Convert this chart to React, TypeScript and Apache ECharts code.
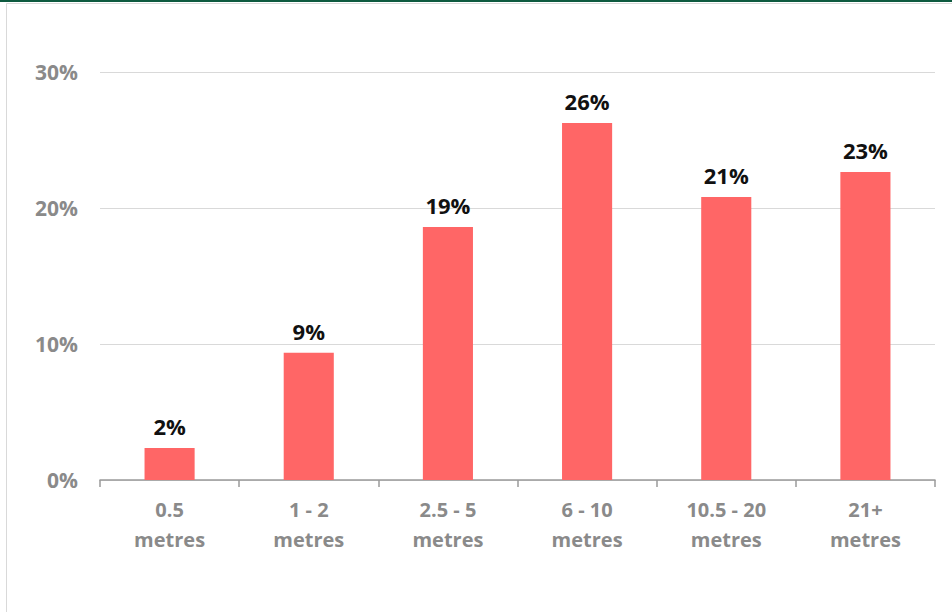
import React, { useEffect, useRef } from "react";
import * as echarts from "echarts";

// Share of responses by distance band (percent)
const categories: string[] = ["0.5\nmetres", "1 - 2\nmetres", "2.5 - 5\nmetres", "6 - 10\nmetres", "10.5 - 20\nmetres", "21+\nmetres"];
const shares: number[] = [2.35, 9.35, 18.6, 26.25, 20.8, 22.65];
const yTicks: number[] = [0, 10, 20, 30];

const FONT = "'Open Sans', 'Liberation Sans', sans-serif";

export default function App() {
  const ref = useRef<HTMLDivElement>(null);

  useEffect(() => {
    if (!ref.current) return;
    const chart = echarts.init(ref.current, null, { renderer: "svg" });
    chart.setOption({
      animation: false,
      backgroundColor: "#ffffff",
      grid: { left: 100, right: 17, top: 72, bottom: 132, containLabel: false },
      graphic: [
        { type: "rect", shape: { x: 0, y: 0, width: 952, height: 2 }, style: { fill: "#0d5a3f" } },
        { type: "line", shape: { x1: 6.5, y1: 3.5, x2: 952, y2: 3.5 }, style: { stroke: "#d9d9d9", lineWidth: 1 } },
        { type: "line", shape: { x1: 6.5, y1: 3.5, x2: 6.5, y2: 612 }, style: { stroke: "#d9d9d9", lineWidth: 1 } },
      ],
      xAxis: {
        type: "category",
        data: categories,
        axisLine: { show: true, lineStyle: { color: "#9a9a9a", width: 1.5 } },
        axisTick: { show: true, alignWithLabel: false, length: 7, lineStyle: { color: "#9a9a9a", width: 1.5 } },
        axisLabel: {
          color: "#8a8a8a",
          fontFamily: FONT,
          fontWeight: "bold",
          fontSize: 20,
          lineHeight: 30,
          margin: 14,
          interval: 0,
        },
      },
      yAxis: {
        type: "value",
        min: yTicks[0],
        max: yTicks[yTicks.length - 1],
        interval: 10,
        axisLine: { show: false },
        axisTick: { show: false },
        splitLine: { lineStyle: { color: "#d9d9d9", width: 1 } },
        axisLabel: {
          color: "#8a8a8a",
          fontFamily: FONT,
          fontWeight: "bold",
          fontSize: 21,
          margin: 22,
          formatter: (v: number) => `${v}%`,
        },
      },
      series: [
        {
          type: "bar",
          data: shares,
          barWidth: "36%",
          itemStyle: { color: "#ff6666" },
          label: {
            show: true,
            position: "top",
            distance: 11,
            color: "#111111",
            fontFamily: FONT,
            fontWeight: "bold",
            fontSize: 22,
            formatter: (p: any) => `${Math.round(p.value)}%`,
          },
        },
      ],
    });
    return () => chart.dispose();
  }, []);

  return (
    <div
      ref={ref}
      style={{ position: "absolute", left: 0, top: 0, width: 952, height: 612 }}
    />
  );
}
